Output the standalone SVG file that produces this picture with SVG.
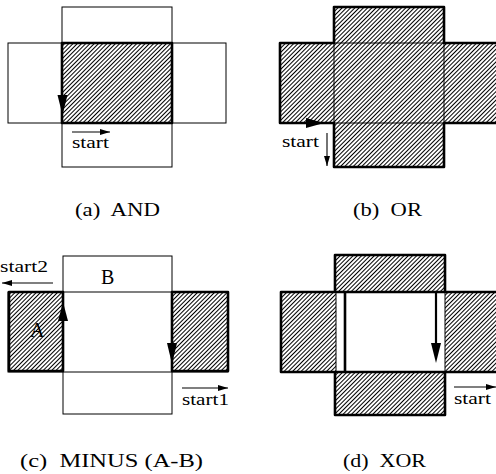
<svg xmlns="http://www.w3.org/2000/svg" width="496" height="474" viewBox="0 0 496 474">
  <style>
    .thin { fill: none; stroke: #000; stroke-width: 1; }
    .thick { fill: none; stroke: #000; stroke-width: 2.6; stroke-linejoin: round; }
    .hatched { fill: url(#hatch); stroke: #000; stroke-width: 2.6; stroke-linejoin: round; }
    .ptr { stroke: #000; stroke-width: 1.1; fill: none; marker-end: url(#tip); }
    .head { fill: #000; }
    .lbl { font-family: "Liberation Serif", "Times New Roman", serif; font-size: 17px; fill: #000; }
    .big { font-family: "Liberation Serif", "Times New Roman", serif; font-size: 20px; fill: #000; }
    .cap { font-family: "Liberation Serif", "Times New Roman", serif; font-size: 19px; fill: #000; white-space: pre; }
  </style>
  <defs>
    <pattern id="hatch" patternUnits="userSpaceOnUse" width="3" height="3" patternTransform="rotate(45)">
      <line x1="1.5" y1="0" x2="1.5" y2="3" stroke="#000" stroke-width="1"/>
    </pattern>
    <marker id="tip" viewBox="0 0 10 6" refX="10" refY="3" markerWidth="10" markerHeight="6" markerUnits="userSpaceOnUse" orient="auto">
      <path d="M0,0 L10,3 L0,6 Z" fill="#000"/>
    </marker>
  </defs>

  <rect width="496" height="474" fill="#fff"/>

  <!-- (a) AND -->
  <g id="panel-and">
    <rect class="thin" x="62" y="7" width="110" height="160"/>
    <rect class="thin" x="8" y="43" width="218" height="80"/>
    <rect class="hatched" x="62" y="43" width="110" height="80"/>
    <g id="and-arrows">
      <polygon class="head" points="57.5,95 67.5,95 62.5,115"/>
      <line class="ptr" x1="72" y1="132" x2="110" y2="132"/>
    </g>
    <text class="lbl" x="72" y="148" textLength="37" lengthAdjust="spacingAndGlyphs">start</text>
    <text class="cap" x="75" y="216" textLength="85" lengthAdjust="spacingAndGlyphs" xml:space="preserve">(a)  AND</text>
  </g>

  <!-- (b) OR -->
  <g id="panel-or">
    <path class="hatched" d="M280,43 H334 V7 H444 V43 H498 V123 H444 V167 H334 V123 H280 Z"/>
    <path class="thin" d="M334,43 V123 M444,43 V123 M334,43 H444 M334,123 H444"/>
    <g id="or-arrows">
      <polygon class="head" points="306,118 306,128 324,123"/>
      <line class="ptr" x1="327" y1="133" x2="327" y2="166"/>
    </g>
    <text class="lbl" x="282" y="147" textLength="37" lengthAdjust="spacingAndGlyphs">start</text>
    <text class="cap" x="353" y="216" textLength="69" lengthAdjust="spacingAndGlyphs" xml:space="preserve">(b)  OR</text>
  </g>

  <!-- (c) MINUS (A-B) -->
  <g id="panel-minus">
    <rect class="thin" x="63" y="256" width="109" height="158"/>
    <rect class="thin" x="8" y="292" width="220" height="80"/>
    <rect class="hatched" x="9" y="292" width="54" height="79"/>
    <rect class="hatched" x="172" y="292" width="56" height="79"/>
    <g id="minus-arrows">
      <polygon class="head" points="58,321 68,321 63,302"/>
      <polygon class="head" points="167,343 177,343 172,364"/>
      <line class="ptr" x1="53" y1="283" x2="2" y2="283"/>
      <line class="ptr" x1="182" y1="388" x2="228" y2="388"/>
    </g>
    <text class="lbl" x="0" y="272" textLength="48" lengthAdjust="spacingAndGlyphs">start2</text>
    <text class="lbl" x="182" y="405" textLength="47" lengthAdjust="spacingAndGlyphs">start1</text>
    <text class="big" x="101" y="284">B</text>
    <text class="big" x="30" y="337">A</text>
    <text class="cap" x="20" y="467" textLength="183" lengthAdjust="spacingAndGlyphs" xml:space="preserve">(c)  MINUS (A-B)</text>
  </g>

  <!-- (d) XOR -->
  <g id="panel-xor">
    <path class="hatched" d="M281,292 H335 V255 H445 V292 H498 V372 H445 V415 H335 V372 H281 Z"/>
    <rect x="336" y="292" width="109" height="80" fill="#fff"/>
    <path class="thin" d="M336,292 V372 M445,292 V372"/>
    <path class="thick" d="M336,292 H445 M336,372 H445 M345,292 V372"/>
    <g id="xor-arrows">
      <line x1="436" y1="292" x2="436" y2="345" stroke="#000" stroke-width="2.2"/>
      <polygon class="head" points="431,343 441,343 436,363"/>
      <line class="ptr" x1="454" y1="387" x2="496" y2="387"/>
    </g>
    <text class="lbl" x="454" y="404" textLength="37" lengthAdjust="spacingAndGlyphs">start</text>
    <text class="cap" x="343" y="467" textLength="83" lengthAdjust="spacingAndGlyphs" xml:space="preserve">(d)  XOR</text>
  </g>
</svg>
